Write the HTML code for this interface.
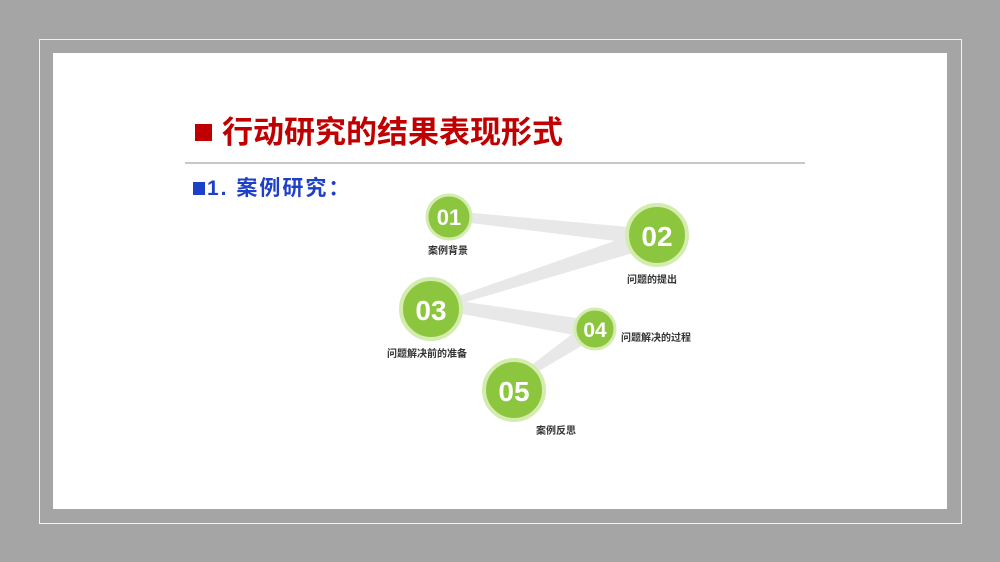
<!DOCTYPE html>
<html><head><meta charset="utf-8"><style>
body{margin:0;width:1000px;height:562px;background:#a5a5a5;position:relative;overflow:hidden;font-family:"Liberation Sans","Noto Sans CJK SC",sans-serif}
.frame{position:absolute;left:39px;top:39px;width:921px;height:483px;border:1px solid #f2f2f2}
.slide{position:absolute;left:53px;top:53px;width:894px;height:456px;background:#fff}
.t{position:absolute;white-space:nowrap}
.lbl{position:absolute;font-size:10px;color:#333;white-space:nowrap;font-weight:bold}
</style></head><body>
<div class="frame"></div>
<div class="slide"></div>
<div class="t" style="left:195px;top:124px;width:17px;height:17px;background:#c00000"></div>
<div class="t" style="left:222px;top:113px;font-size:31px;line-height:40px;color:#c00000;font-weight:bold">行动研究的结果表现形式</div>
<div class="t" style="left:185px;top:162px;width:620px;height:2px;background:#c8c8c8"></div>
<div class="t" style="left:193px;top:182px;width:12px;height:13px;background:#1e3fc8"></div>
<div class="t" style="left:207px;top:175px;font-size:21px;line-height:28px;color:#1e3fc8;font-weight:bold;letter-spacing:2px">1. 案例研究：</div>
<svg style="position:absolute;left:0;top:0" width="1000" height="562">
<g fill="#e8e8e8">
<polygon points="462,212 640,228 640,244 462,222"/>
<polygon points="640,232 650,248 452,306 447,300"/>
<polygon points="452,300 590,320 590,338 452,312"/>
<polygon points="588,322 600,335 527,378 521,373"/>
</g>
<g font-family="Liberation Sans,sans-serif" font-weight="bold" fill="#fff" text-anchor="middle">
<circle cx="449" cy="217" r="22" fill="#8cc63f" stroke="#d4ecb0" stroke-width="3"/>
<text x="449" y="225" font-size="22">01</text>
<circle cx="657" cy="235" r="30" fill="#8cc63f" stroke="#d4ecb0" stroke-width="4"/>
<text x="657" y="246" font-size="28">02</text>
<circle cx="431" cy="309" r="30" fill="#8cc63f" stroke="#d4ecb0" stroke-width="4"/>
<text x="431" y="320" font-size="28">03</text>
<circle cx="595" cy="329" r="20" fill="#8cc63f" stroke="#d4ecb0" stroke-width="3"/>
<text x="595" y="337" font-size="21">04</text>
<circle cx="514" cy="390" r="30" fill="#8cc63f" stroke="#d4ecb0" stroke-width="4"/>
<text x="514" y="401" font-size="28">05</text>
</g>
</svg>
<div class="lbl" style="left:428px;top:242px">案例背景</div>
<div class="lbl" style="left:627px;top:271px">问题的提出</div>
<div class="lbl" style="left:387px;top:345px">问题解决前的准备</div>
<div class="lbl" style="left:621px;top:329px">问题解决的过程</div>
<div class="lbl" style="left:536px;top:422px">案例反思</div>
</body></html>
